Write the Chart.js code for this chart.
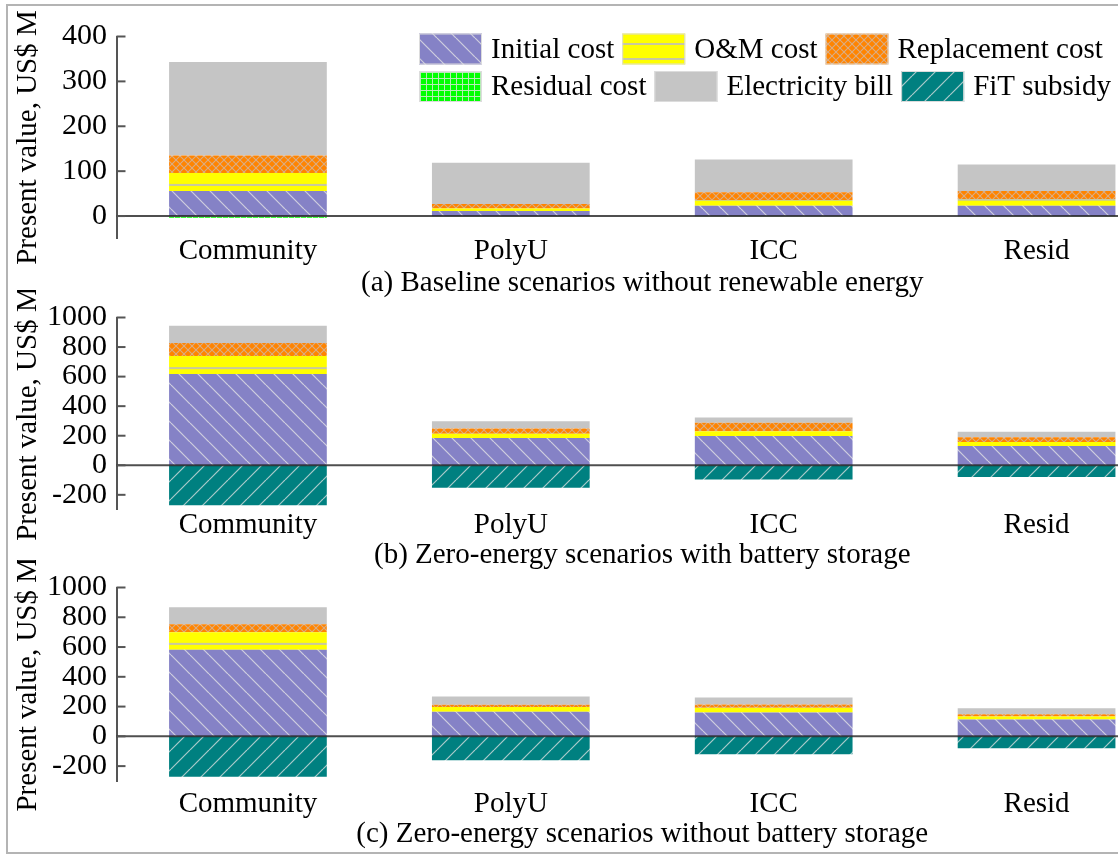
<!DOCTYPE html>
<html>
<head>
<meta charset="utf-8">
<script src="https://cdn.jsdelivr.net/npm/chart.js@4.4.1/dist/chart.umd.min.js"></script>
<style>
  html, body { margin: 0; padding: 0; background: #fff; overflow: hidden; }
  #fig { position: relative; width: 1118px; height: 856px; overflow: hidden; background: #fff; }
  #frame { position: absolute; left: 6px; top: 4px; width: 1300px; height: 850px;
           border: 2px solid #b4b4b4; box-sizing: border-box; }
  canvas { position: absolute; left: 0; }
</style>
</head>
<body>
<div id="fig">
  <div id="frame"></div>
  <canvas id="ca" width="1168" height="301" style="top:0px"></canvas>
  <canvas id="cb" width="1168" height="283" style="top:290px"></canvas>
  <canvas id="cc" width="1168" height="292" style="top:560px"></canvas>
</div>
<script>
// Present value of life-cycle cost components, US$ million
const categories = ['Community', 'PolyU', 'ICC', 'Resid'];
const seriesNames = ['Initial cost', 'O&M cost', 'Replacement cost', 'Residual cost', 'Electricity bill', 'FiT subsidy'];

// (a) Baseline scenarios without renewable energy
const initialA     = [56, 11, 23, 23];
const omA          = [40, 6, 13, 15];
const replacementA = [39, 10, 17, 18];
const residualA    = [-4, -1, -1, -1];
const electricityA = [208, 92, 73, 59];
const fitA         = [0, 0, 0, 0];

// (b) Zero-energy scenarios with battery storage
const initialB     = [617, 184, 198, 130];
const omB          = [123, 30, 33, 28];
const replacementB = [88, 34, 56, 32];
const residualB    = [0, 0, 0, 0];
const electricityB = [117, 50, 37, 37];
const fitB         = [-271, -152, -97, -80];

// (c) Zero-energy scenarios without battery storage
const initialC     = [581, 166, 160, 113];
const omC          = [118, 31, 32, 21];
const replacementC = [54, 15, 22, 15];
const residualC    = [0, 0, 0, 0];
const electricityC = [114, 56, 47, 39];
const fitC         = [-272, -160, -121, -80];

const ticksA = [0, 100, 200, 300, 400];
const ticksBC = [-200, 0, 200, 400, 600, 800, 1000];

const FONT = "'Liberation Serif', 'Times New Roman', serif";
const TEXT_SIZE = 29;
const TICK_SIZE = 30;

// ---- hatch fills ----
function makeTile(bg, w, h, draw) {
  const c = document.createElement('canvas');
  c.width = w; c.height = h;
  const g = c.getContext('2d');
  g.fillStyle = bg; g.fillRect(0, 0, w, h);
  draw(g, w, h);
  return c;
}
function makePattern(bg, w, h, draw) {
  const tile = makeTile(bg, w, h, draw);
  return tile.getContext('2d').createPattern(tile, 'repeat');
}
function back(g, s, col, lw) {          // "\" lines
  g.strokeStyle = col; g.lineWidth = lw;
  for (let k = -1; k <= 1; k++) { g.beginPath(); g.moveTo(k * s, 0); g.lineTo(k * s + s, s); g.stroke(); }
}
function fwd(g, s, col, lw) {           // "/" lines
  g.strokeStyle = col; g.lineWidth = lw;
  for (let k = -1; k <= 1; k++) { g.beginPath(); g.moveTo(k * s, s); g.lineTo(k * s + s, 0); g.stroke(); }
}

// O&M: yellow with a thin rule a few pixels above the segment's base
const OM_TILE_H = 40;
const omTile = makeTile('#ffff00', 4, OM_TILE_H, (g, w) => { g.fillStyle = '#c8c8a0'; g.fillRect(0, OM_TILE_H - 7, w, 2); });
const omLegend = makePattern('#ffff00', 4, 15, (g, w) => { g.fillStyle = '#c8c8a0'; g.fillRect(0, 13, w, 2); });
function omFill(c) {
  if (c.type !== 'data' || !c.chart.scales || !c.chart.scales.y) return '#ffff00';
  const base = c.chart.scales.y.getPixelForValue(c.chart.data.datasets[0].data[c.dataIndex]);
  const p = omTile.getContext('2d').createPattern(omTile, 'repeat');
  p.setTransform(new DOMMatrix().translate(0, base - OM_TILE_H));
  return p;
}

const fills = [
  makePattern('#8582c6', 19, 19, (g, w) => back(g, w, 'rgba(215,215,225,0.9)', 1.2)),
  omLegend,
  makePattern('#ff8400', 8, 8, (g, w) => { back(g, w, 'rgba(215,175,140,0.95)', 1.1); fwd(g, w, 'rgba(215,175,140,0.95)', 1.1); }),
  makePattern('#00ff00', 6, 6, (g, w, h) => { g.fillStyle = 'rgba(190,235,190,0.95)'; g.fillRect(0, 0, w, 1); g.fillRect(0, 0, 1, h); }),
  '#c5c5c5',
  makePattern('#008080', 19, 19, (g, w) => fwd(g, w, 'rgba(200,215,215,0.85)', 1.2))
];

// ---- plugins ----
const zeroLine = {
  id: 'zeroLine',
  afterDatasetsDraw(chart) {
    const y = chart.scales.y, a = chart.chartArea, ctx = chart.ctx;
    const py = y.getPixelForValue(0);
    ctx.save();
    ctx.strokeStyle = 'rgba(35,35,35,0.8)';
    ctx.lineWidth = 2;
    ctx.beginPath(); ctx.moveTo(a.left, py); ctx.lineTo(a.right, py); ctx.stroke();
    ctx.restore();
  }
};
const inwardTicks = {
  id: 'inwardTicks',
  afterDraw(chart) {
    const y = chart.scales.y, ctx = chart.ctx, x0 = chart.chartArea.left;
    ctx.save();
    ctx.strokeStyle = '#555';
    ctx.lineWidth = 2;
    y.ticks.forEach(t => {
      const py = y.getPixelForValue(t.value);
      ctx.beginPath(); ctx.moveTo(x0, py); ctx.lineTo(x0 + 9, py); ctx.stroke();
    });
    ctx.restore();
  }
};
const boxLegend = {
  id: 'boxLegend',
  afterDraw(chart, args, opts) {
    if (!opts.show) return;
    const ctx = chart.ctx, ds = chart.data.datasets;
    const rows = [[0, 1, 2], [3, 4, 5]];
    const rowTop = [33.5, 71];
    const bw = 63, bh = 31;
    ctx.save();
    ctx.font = TEXT_SIZE + 'px ' + FONT;
    ctx.textBaseline = 'middle';
    rows.forEach((r, ri) => {
      let x = 419;
      r.forEach(i => {
        const top = rowTop[ri];
        ctx.fillStyle = fills[i];
        ctx.fillRect(x, top, bw, bh);
        ctx.strokeStyle = '#dcdcdc'; ctx.lineWidth = 1;
        ctx.strokeRect(x + 0.5, top + 0.5, bw - 1, bh - 1);
        x += bw + 9;
        ctx.fillStyle = '#000';
        ctx.fillText(ds[i].label, x, top + bh / 2 + 1);
        x += ctx.measureText(ds[i].label).width + 8;
      });
    });
    ctx.restore();
  }
};

function buildChart(id, cols, cfg) {
  const datasets = cols.map((vals, i) => ({
    label: seriesNames[i],
    data: vals,
    backgroundColor: i === 1 ? omFill : fills[i],
    borderWidth: 0,
    stack: 's'
  }));
  return new Chart(document.getElementById(id), {
    type: 'bar',
    data: { labels: categories, datasets },
    plugins: [zeroLine, inwardTicks, boxLegend],
    options: {
      responsive: false,
      animation: false,
      devicePixelRatio: 1,
      layout: { padding: { top: cfg.padTop, left: 0, right: 0, bottom: 0 }, autoPadding: false },
      datasets: { bar: { categoryPercentage: 1, barPercentage: 0.6 } },
      plugins: {
        legend: { display: false },
        tooltip: { enabled: false },
        boxLegend: { show: cfg.legend }
      },
      scales: {
        x: {
          stacked: true,
          grid: { display: false, drawTicks: false },
          border: { display: false },
          ticks: { font: { family: FONT, size: TEXT_SIZE }, color: '#000', padding: cfg.labelPad, maxRotation: 0, autoSkip: false },
          title: { display: true, text: cfg.title, font: { family: FONT, size: TEXT_SIZE }, color: '#000', padding: 0 },
          afterFit(s) { s.height = cfg.xHeight; }
        },
        y: {
          stacked: true,
          min: cfg.min, max: cfg.max,
          afterBuildTicks(s) { s.ticks = cfg.ticks.map(v => ({ value: v })); },
          ticks: { font: { family: FONT, size: TICK_SIZE }, color: '#000', padding: 9.5, autoSkip: false,
                   callback: v => String(v) },
          grid: { display: false, drawTicks: false },
          border: { display: true, color: '#555', width: 2 },
          title: { display: true, text: 'Present value, US$ M', font: { family: FONT, size: TEXT_SIZE }, color: '#000', padding: { top: 11, bottom: 0 } },
          afterFit(s) { s.width = 116.5; }
        }
      }
    }
  });
}

buildChart('ca', [initialA, omA, replacementA, residualA, electricityA, fitA], {
  padTop: 36.5, xHeight: 62.5, min: -50, max: 400, ticks: ticksA, labelPad: -4.2,
  title: '(a) Baseline scenarios without renewable energy', legend: true
});
buildChart('cb', [initialB, omB, replacementB, residualB, electricityB, fitB], {
  padTop: 19, xHeight: 63.4, min: -300, max: 1000, ticks: ticksBC, labelPad: -1.8,
  title: '(b) Zero-energy scenarios with battery storage', legend: false
});
buildChart('cc', [initialC, omC, replacementC, residualC, electricityC, fitC], {
  padTop: 20, xHeight: 71, min: -300, max: 1000, ticks: ticksBC, labelPad: 5.6,
  title: '(c) Zero-energy scenarios without battery storage', legend: false
});
</script>
</body>
</html>
